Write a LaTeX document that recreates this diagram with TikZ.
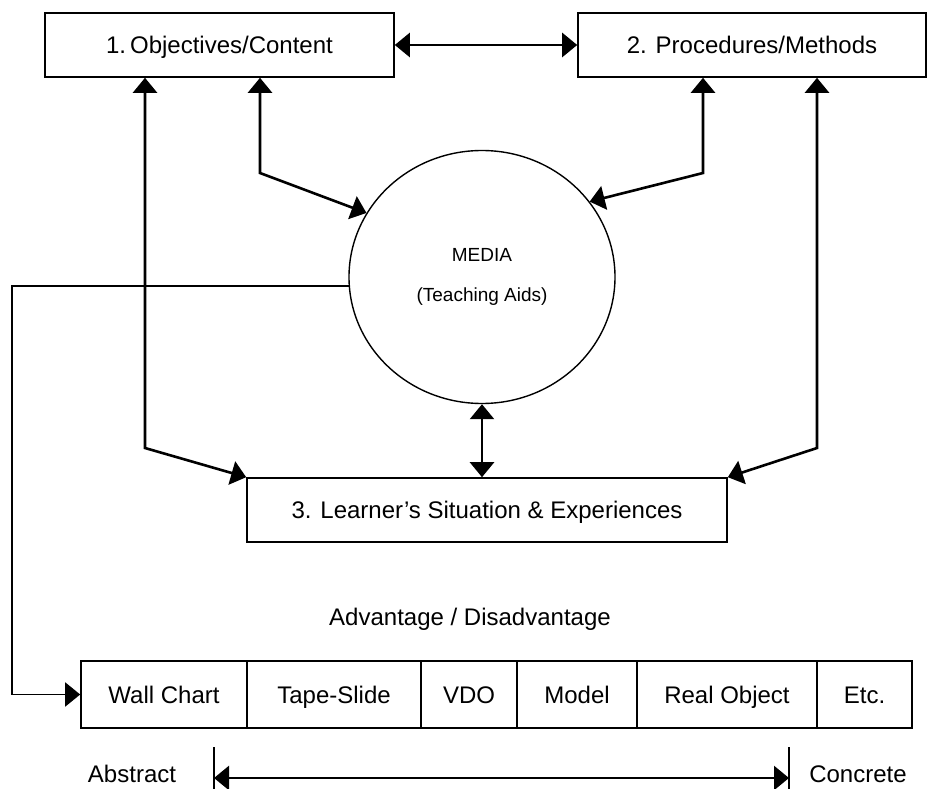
\documentclass[tikz,border=0pt]{standalone}
\usepackage{fontspec}
\setmainfont{Liberation Sans}
\usetikzlibrary{arrows.meta,shapes.geometric}

\begin{document}
\begin{tikzpicture}[x=1pt,y=-1pt]
	\tikzstyle{box}=[draw=black,line width=1.6pt,minimum height=64pt,inner sep=0pt,text height=17pt,text depth=0pt,font=\fontsize{24}{28}\selectfont]
	\tikzstyle{cell}=[draw=black,line width=1.6pt,minimum height=67pt,inner sep=0pt,text height=17pt,text depth=0pt,font=\fontsize{24}{28}\selectfont]
	\tikzstyle{label}=[inner sep=0pt,text height=17pt,text depth=0pt,font=\fontsize{24}{28}\selectfont]
	\tikzstyle{link}=[line width=2.6pt,{Triangle[length=15pt,width=24pt]}-{Triangle[length=15pt,width=24pt]}]
	\useasboundingbox (0,0) rectangle (927,789);
	\node[box,minimum width=349pt](obj) at (219.5,45){1.\,Objectives/Content};
	\node[box,minimum width=348pt](proc) at (752,45){2. Procedures/Methods};
	\node[box,minimum width=480pt](learn) at (487,510){3. Learner's Situation \& Experiences};
	\node[ellipse,draw=black,line width=1.4pt,minimum width=266pt,minimum height=253pt,align=center,font=\fontsize{19}{40}\selectfont](media) at (482,277){MEDIA\\(Teaching Aids)};
	\coordinate (o1) at (260,173);
	\coordinate (o2) at (145,448);
	\coordinate (p1) at (703,173);
	\coordinate (p2) at (817,448);
	\coordinate (bend) at (12,500);
	\draw[link] (obj) -- (proc);
	\draw[link] (obj.south -| o1) -- (o1) -- (media.151);
	\draw[link] (proc.south -| p1) -- (p1) -- (media.35);
	\draw[link] (obj.south -| o2) -- (o2) -- (learn.north west);
	\draw[link] (proc.south -| p2) -- (p2) -- (learn.north east);
	\draw[link] (media.south) -- (media.south |- learn.north);
	\node[label](adv) at (470,617){Advantage / Disadvantage};
	% media scale
	\foreach \n/\x/\w/\t in {1/164/166/Wall Chart,2/334/174/Tape-Slide,3/469/96/VDO,4/577/120/Model,5/727/180/Real Object,6/864.5/95/Etc.}
		\node[cell,minimum width=\w pt](c\n) at (\x,694.5){\t};
	\draw[line width=1.8pt,-{Triangle[length=15pt,width=24pt]}] (media.184) -| (bend) |- (c1);
	\node[label](abs) at (132,774){Abstract};
	\node[label](con) at (858,774){Concrete};
	\coordinate (t1) at (214,778);
	\coordinate (t2) at (789,778);
	\draw[line width=1.4pt] (t1) ++(0,-31) -- ++(0,42) (t2) ++(0,-31) -- ++(0,42);
	\draw[link] (t1) -- (t2);
\end{tikzpicture}
\end{document}
